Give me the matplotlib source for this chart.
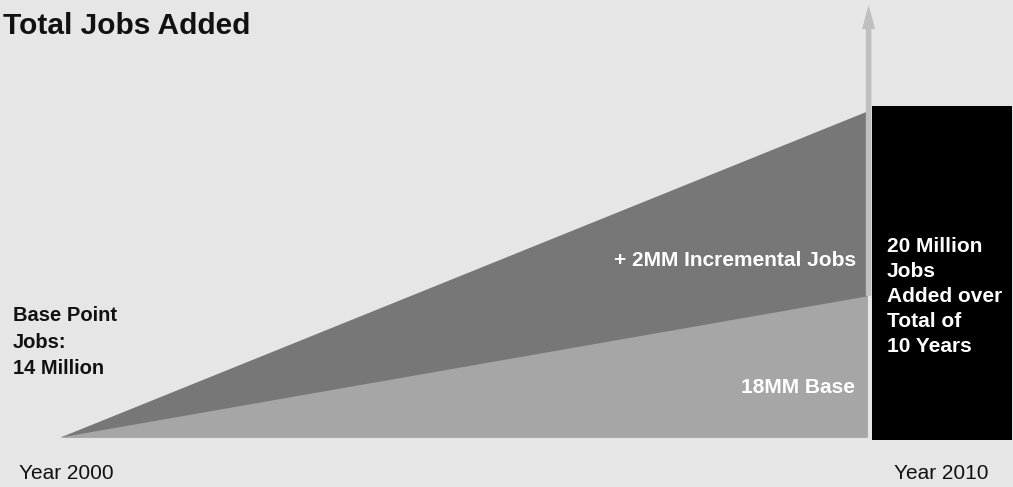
import matplotlib.pyplot as plt

# data (illustrative heights, total triangle top = 1)
years = [2000, 2010]
base_height = [0, 0.433]
total_height = [0, 1.0]
box_span = [2010.06, 2011.80]   # black summary box, in years
box_height = [-0.009, 1.015]
arrow_top = 1.325

title = 'Total Jobs Added'
start_label = ['Base Point', 'Jobs:', '14 Million']
box_label = ['20 Million', 'Jobs', 'Added over', 'Total of', '10 Years']
incr_label = '+ 2MM Incremental Jobs'
base_label = '18MM Base'
year_labels = ['Year 2000', 'Year 2010']

W, H = 1013, 487
bg = '#e6e6e6'
plt.rcParams['font.family'] = ['Liberation Sans', 'DejaVu Sans']

fig = plt.figure(figsize=(W / 100, H / 100), dpi=100, facecolor=bg)
ax = fig.add_axes([0, 0, 1, 1])
ax.set_facecolor(bg)
ax.axis('off')

# year axis: 2000 at px 60, 2010 at px 867
ppy = (867 - 60) / 10
ax.set_xlim(2000 - 60 / ppy, 2000 + (W - 60) / ppy)
ax.set_ylim(-(H - 437) / 326, 437 / 326)

ax.fill_between(years, 0, total_height, color='#777777', lw=0, zorder=1)
ax.fill_between(years, 0, base_height, color='#a6a6a6', lw=0, zorder=2)

ax.bar(box_span[0], box_height[1] - box_height[0], width=box_span[1] - box_span[0],
       bottom=box_height[0], align='edge', color='black', lw=0, zorder=3)

ax.annotate('', xy=(2010.02, arrow_top), xytext=(2010.02, base_height[1]),
            arrowprops=dict(arrowstyle='simple,head_length=1.73,head_width=0.94,tail_width=0.4',
                            fc='#bfbfbf', ec='none', shrinkA=0, shrinkB=0,
                            mutation_scale=10), zorder=4)


def px(x, y):
    return x / W, 1 - y / H


fig.text(*px(3, 34), title, fontsize=21.5, fontweight='bold', va='baseline', color='#111111')

for i, line in enumerate(start_label):
    fig.text(*px(13, 321 + 26.5 * i), line, fontsize=14.5, fontweight='bold',
             va='baseline', color='#111111')

for i, line in enumerate(box_label):
    fig.text(*px(887, 252 + 25 * i), line, fontsize=15, fontweight='bold',
             va='baseline', color='white')

fig.text(*px(856, 266), incr_label, fontsize=15, fontweight='bold', ha='right',
         va='baseline', color='white')
fig.text(*px(855, 393), base_label, fontsize=15, fontweight='bold', ha='right',
         va='baseline', color='white')

fig.text(*px(19, 479), year_labels[0], fontsize=15, va='baseline', color='#111111')
fig.text(*px(988, 479), year_labels[1], fontsize=15, ha='right', va='baseline',
         color='#111111')

plt.savefig('out.png', dpi=100, facecolor=bg)
